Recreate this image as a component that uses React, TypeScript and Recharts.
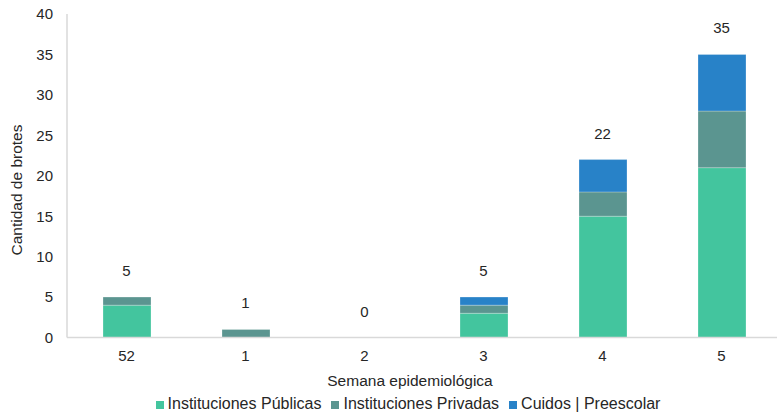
import React from 'react';
import { ComposedChart, Bar, Line, XAxis, YAxis, Legend, LabelList, Label } from 'recharts';

const weeks = ['52', '1', '2', '3', '4', '5'];
const publicas = [4, 0, 0, 3, 15, 21];
const privadas = [1, 1, 0, 1, 3, 7];
const cuidos = [0, 0, 0, 1, 4, 7];
const yTicks = [0, 5, 10, 15, 20, 25, 30, 35, 40];
const seriesNames = ['Instituciones Públicas', 'Instituciones Privadas', 'Cuidos | Preescolar'];

const data = weeks.map((w, i) => ({
  week: w,
  publicas: publicas[i],
  privadas: privadas[i],
  cuidos: cuidos[i],
  total: publicas[i] + privadas[i] + cuidos[i],
}));

const FONT = '"Liberation Sans", Arial, sans-serif';
const TEXT = '#262626';

const TotalLabel = (props: any) => {
  const { x, y, value } = props;
  return (
    <text x={x} y={y - 21} textAnchor="middle" fontSize={15} fill={TEXT} fontFamily={FONT}>
      {value}
    </text>
  );
};

export default function App() {
  return (
    <div style={{ position: 'absolute', left: 0, top: 0, width: 777, height: 420, overflow: 'hidden', background: '#fff' }}>
      <ComposedChart
        width={781}
        height={420}
        data={data}
        margin={{ top: 14, right: 0, bottom: 0, left: 0 }}
        barSize={48}
        style={{ fontFamily: FONT }}
      >
        <XAxis
          dataKey="week"
          height={64.5}
          tickLine={false}
          tickMargin={7}
          axisLine={{ stroke: '#d9d9d9', strokeWidth: 1.5 }}
          tick={{ fontSize: 15, fill: TEXT, fontFamily: FONT }}
        >
          <Label
            content={() => (
              <text x={410} y={386} textAnchor="middle" fontSize={15.5} fill={TEXT} fontFamily={FONT}>
                Semana epidemiológica
              </text>
            )}
          />
        </XAxis>
        <YAxis
          width={67}
          domain={[0, 40]}
          ticks={yTicks}
          interval={0}
          tickLine={false}
          tickMargin={8}
          axisLine={{ stroke: '#d9d9d9', strokeWidth: 1.5 }}
          tick={{ fontSize: 15, fill: TEXT, fontFamily: FONT }}
        >
          <Label
            content={() => (
              <text
                x={22}
                y={190}
                textAnchor="middle"
                fontSize={15.5}
                fill={TEXT}
                fontFamily={FONT}
                transform="rotate(-90 22 190)"
              >
                Cantidad de brotes
              </text>
            )}
          />
        </YAxis>
        <Legend
          iconType="square"
          iconSize={8}
          itemSorter={(item: any) => seriesNames.indexOf(item.value)}
          wrapperStyle={{ top: 395, left: 0, width: 826, fontSize: 16, fontFamily: FONT }}
          formatter={(value: any) => <span style={{ color: TEXT }}>{value}</span>}
        />
        <Bar dataKey="publicas" name={seriesNames[0]} stackId="a" fill="#43C59E" stroke="#ffffff" strokeOpacity={0.25} isAnimationActive={false} />
        <Bar dataKey="privadas" name={seriesNames[1]} stackId="a" fill="#5B9590" stroke="#ffffff" strokeOpacity={0.25} isAnimationActive={false} />
        <Bar dataKey="cuidos" name={seriesNames[2]} stackId="a" fill="#2882C8" stroke="#ffffff" strokeOpacity={0.25} isAnimationActive={false} />
        <Line
          dataKey="total"
          stroke="none"
          dot={false}
          activeDot={false}
          legendType="none"
          isAnimationActive={false}
        >
          <LabelList dataKey="total" content={TotalLabel} />
        </Line>
      </ComposedChart>
    </div>
  );
}
